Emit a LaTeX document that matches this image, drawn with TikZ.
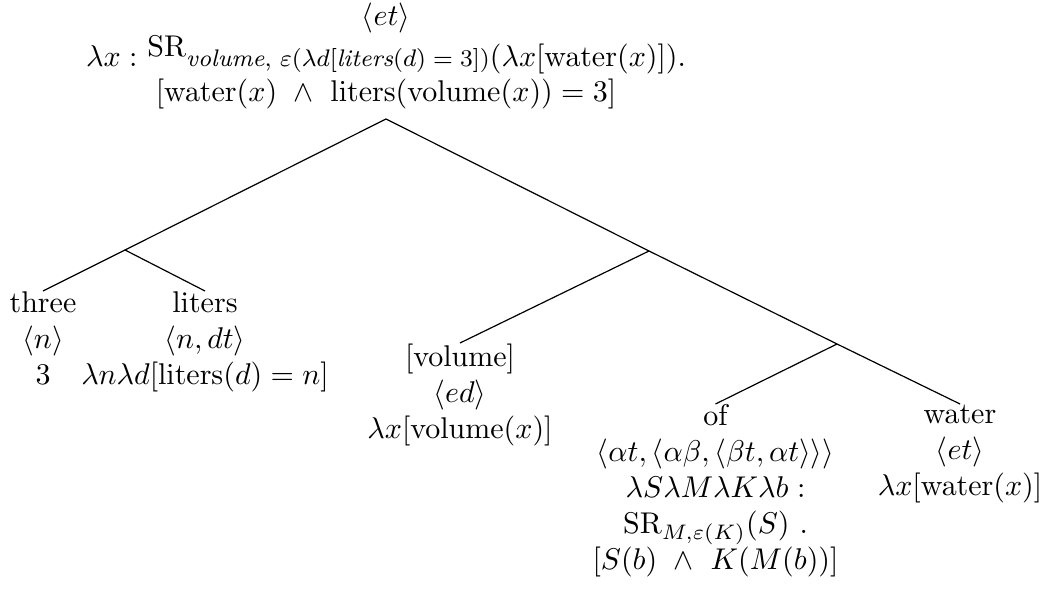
\documentclass[tikz,border=0pt]{standalone}
\usepackage{amsmath}
\begin{document}
\lineskiplimit=-20pt\relax
\begin{tikzpicture}[x=0.33333pt,y=-0.33333pt,
  lab/.style={font=\fontsize{10}{12}\selectfont, align=center},
  leaf/.style={lab, anchor=north, inner sep=0pt, execute at begin node={\rule{0pt}{9.33pt}}},
  edge/.style={line width=0.4pt}]
\useasboundingbox (0,0) rectangle (1048,602);
\node[lab, anchor=south, inner xsep=0pt, inner ysep=3.2pt] (r) at (386,119)
  {$\langle et\rangle$\\[1.8pt]
   $\lambda x :$ \raisebox{3.3pt}{SR}{\footnotesize\textit{volume}, $\varepsilon(\lambda d[\textit{liters}(d) = 3])$}$(\lambda x[\mathrm{water}(x)]).$\\[-0.5pt]
   $[\mathrm{water}(x)\ \wedge\ \mathrm{liters}(\mathrm{volume}(x)) = 3]$};
\coordinate (L) at (125,250);
\coordinate (R1) at (649,251);
\coordinate (R2) at (837,344);
\node[leaf] (three) at (43,291) {three\\ $\langle n\rangle$\\ $3$};
\node[leaf] (liters) at (205,291) {liters\\ $\langle n,dt\rangle$\\ $\lambda n\lambda d[\mathrm{liters}(d)=n]$};
\node[leaf] (vol) at (460,343) {[volume]\\ $\langle ed\rangle$\\ $\lambda x[\mathrm{volume}(x)]$};
\node[leaf] (of) at (715.5,404) {of\\ $\langle\alpha t,\langle\alpha\beta,\langle\beta t,\alpha t\rangle\rangle\rangle$\\ $\lambda S\lambda M\lambda K\lambda b :$\\ $\text{SR}_{M,\varepsilon(K)}(S)\ .$\\ $[S(b)\ \wedge\ K(M(b))]$};
\node[leaf] (water) at (960,404) {water\\ $\langle et\rangle$\\ $\lambda x[\mathrm{water}(x)]$};
\draw[edge] (r.south) -- (L);
\draw[edge] (L) -- (three.north);
\draw[edge] (L) -- (liters.north);
\draw[edge] (r.south) -- (R1);
\draw[edge] (R1) -- (vol.north);
\draw[edge] (R1) -- (R2);
\draw[edge] (R2) -- (of.north);
\draw[edge] (R2) -- (water.north);
\end{tikzpicture}
\end{document}
